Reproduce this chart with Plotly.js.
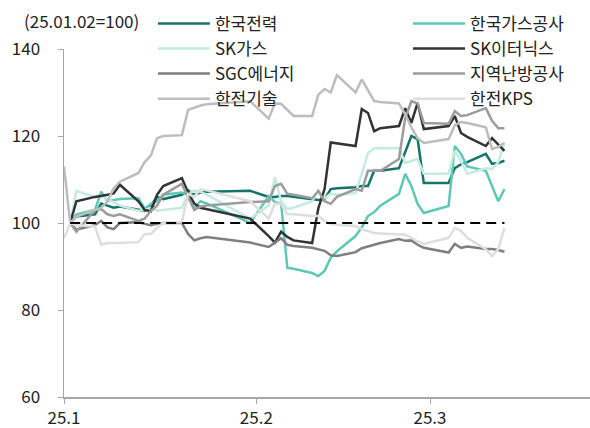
<!DOCTYPE html>
<html>
<head>
<meta charset="utf-8">
<script src="https://cdn.plot.ly/plotly-3.0.1.min.js"></script>
<style>
  html, body { margin: 0; padding: 0; background: #fff; }
  #chart { width: 590px; height: 428px; }
</style>
</head>
<body>
<div id="chart"></div>
<script>
const FONT = {family: '"Noto Sans CJK KR", "Noto Sans", sans-serif', size: 17, color: '#222'};

// trading days, index 0 = year-end carry-over point
const dates = [
  '2025-01-01', '2025-01-02', '2025-01-03', '2025-01-06', '2025-01-07', '2025-01-08', '2025-01-09', '2025-01-10',
  '2025-01-13', '2025-01-14', '2025-01-15', '2025-01-16', '2025-01-17',
  '2025-01-20', '2025-01-21', '2025-01-22', '2025-01-23', '2025-01-24', '2025-01-31',
  '2025-02-03', '2025-02-04', '2025-02-05', '2025-02-06', '2025-02-07',
  '2025-02-10', '2025-02-11', '2025-02-12', '2025-02-13', '2025-02-14',
  '2025-02-17', '2025-02-18', '2025-02-19', '2025-02-20', '2025-02-21',
  '2025-02-24', '2025-02-25', '2025-02-26', '2025-02-27', '2025-02-28',
  '2025-03-04', '2025-03-05', '2025-03-06', '2025-03-07',
  '2025-03-10', '2025-03-11', '2025-03-12', '2025-03-13',
];

const kepco = [null, 100, 101.5, 102, 104.5, 104, 103.5, 103.8, 103, 102.8, 104, 106, 105.5,
  106.5, 107.5, 106.5, 107, 107.2, 107.4, 106, 106, 106.2, 106.2, 106,
  105.5, 105.3, 105.5, 107.8, 108, 108.2, 108.5, 108.5, 112, 112,
  112.6, 116.5, 120, 119.3, 109.2, 109.2, 112.6, 113.5, 114, 115.9, 113.6, 113.8, 114.3];
const kogas = [null, 100, 102, 103, 107.2, 105, 105.3, 105.5, 105.7, 103.3, 104.4, 105, 106.5,
  107, 106.5, 103.4, 105, 104.5, 100, 106.2, 104.8, 104.5, 89.7, 89.5,
  88.5, 87.8, 89, 92, 93.5, 97, 99, 101.6, 102.5, 104,
  106.7, 111.3, 108.5, 104.4, 102.3, 103.9, 117.7, 115.9, 113, 112, 108.5, 105, 107.8];
const skgas = [null, 100, 107.4, 106, 106.3, 105.5, 104.8, 104, 102.8, 103, 103.5, 102.8, 103,
  103.5, 106.7, 107.4, 107.2, 106.5, 101, 104, 110.5, 105, 103.2, 103.5,
  105, 107.4, 105.7, 106.7, 106.5, 106.9, 111.3, 116.1, 117.2, 117.2,
  117.2, 113.8, 114.3, 114.7, 111.3, 111.3, 116.6, 114.3, 111.3, 112.6, 112.4, 114, 118.4];
const skEternix = [null, 100, 105, 106, 106.2, 106.5, 106.8, 108.8, 105, 103, 102.7, 106.5, 108.5,
  110.3, 107, 104.5, 103.5, 103.2, 101, 97, 95.5, 98, 96.8, 96,
  95.4, 103.4, 107.8, 118.5, 118.3, 117.7, 126.2, 125.3, 121.1, 121.8,
  122.3, 126.4, 123, 127.6, 121.6, 122.3, 124.6, 120.7, 119.8, 117.7, 119.5, 118, 116.6];
const sgc = [null, 100, 98.5, 99.5, 100.5, 99, 98.6, 100, 100.2, 99.8, 99.5, 99.8, 100,
  100, 97.5, 96, 96.5, 96.8, 95.5, 94.5, 95.5, 96.5, 95, 94.7,
  94.3, 94, 93.6, 92.6, 92.4, 93.3, 94.2, 94.6, 95, 95.4,
  96.3, 95.9, 96, 95, 94.3, 93.2, 95.2, 94.3, 94.6, 94, 94, 93.8, 93.4];
const kdhc = [null, 100, 98, 103, 103.2, 102, 101.6, 102, 100.5, 101, 102.8, 104, 106.5,
  109, 106, 103, 103.8, 104, 104.8, 105, 108.5, 109, 106.7, 106.5,
  105.7, 107.4, 105, 104.4, 106, 107.8, 107.4, 112, 112, 112,
  114.7, 124.1, 128, 127.5, 123, 122.8, 125.7, 124.6, 124.8, 126.4, 123.5, 121.8, 121.8];
const kepcoEnc = [113, 100, 101.5, 103, 103.5, 105, 108, 109.5, 111.5, 114, 115.5, 119.5, 120,
  120.2, 126, 126.5, 127, 127.3, 128, 124, 127.5, 127.4, 126, 124.6,
  124.6, 129.5, 130.8, 130, 134, 130, 133, 130.5, 128, 127.8,
  127.5, 125, 122, 119.5, 118.4, 119.3, 122.5, 123.2, 123, 122, 117, 117.5, 118.4];
const kepcoKps = [96.5, 100, 99.5, 99.2, 95, 95.4, 95.4, 95.4, 95.6, 97.5, 97.5, 98.9, 100,
  100.2, 106.7, 106, 107.8, 107.5, 105, 101, 104.4, 104.4, 102, 102,
  101.6, 101.6, 100.5, 99.8, 99.6, 99.3, 98.6, 98.2, 97.7, 97.6,
  97.5, 97.3, 96.6, 95.8, 95.2, 96.6, 98.9, 98.2, 96.6, 94, 92.4, 94, 98.9];

const baseDates = [dates[1], dates[dates.length - 1]];
const baseValues = [100, 100];

const tickDates = ['2025-01-01', '2025-02-01', '2025-03-01'];
const tickLabels = ['25.1', '25.2', '25.3'];

// legend: left column = 'legend', right column = 'legend2'
const seriesDefs = [
  {name: '한국전력', y: kepco, color: '#14746a', legend: 'legend'},
  {name: '한국가스공사', y: kogas, color: '#5ec8b7', legend: 'legend2'},
  {name: 'SK가스', y: skgas, color: '#c4eae2', legend: 'legend'},
  {name: 'SK이터닉스', y: skEternix, color: '#333333', legend: 'legend2'},
  {name: 'SGC에너지', y: sgc, color: '#7f7f7f', legend: 'legend'},
  {name: '지역난방공사', y: kdhc, color: '#9c9c9c', legend: 'legend2'},
  {name: '한전기술', y: kepcoEnc, color: '#bdbdbd', legend: 'legend'},
  {name: '한전KPS', y: kepcoKps, color: '#dedede', legend: 'legend2'},
];

const traces = seriesDefs.map(s => ({
  x: dates,
  y: s.y,
  name: s.name,
  legend: s.legend,
  legendgroup: s.name,
  type: 'scatter',
  mode: 'lines',
  connectgaps: false,
  line: {color: s.color, width: 2.5},
  hoverinfo: 'x+y+name',
}));

traces.push({
  x: baseDates,
  y: baseValues,
  type: 'scatter',
  mode: 'lines',
  showlegend: false,
  line: {color: '#000', width: 2, dash: '10px,6px'},
  hoverinfo: 'skip',
});

function legendCol(x) {
  return {
    orientation: 'v',
    x: x,
    xanchor: 'left',
    y: 1.124,
    yanchor: 'top',
    itemwidth: 52,
    tracegroupgap: 0,
    font: FONT,
    bgcolor: 'rgba(0,0,0,0)',
    borderwidth: 0,
  };
}

const layout = {
  width: 590,
  height: 428,
  margin: {l: 64, r: 0, t: 49, b: 31},
  paper_bgcolor: '#fff',
  plot_bgcolor: '#fff',
  font: FONT,
  showlegend: true,
  legend: legendCol(0.169),
  legend2: legendCol(0.654),
  xaxis: {
    type: 'date',
    range: ['2025-01-01', '2025-03-26 19:00'],
    tickvals: tickDates,
    ticktext: tickLabels,
    ticks: 'outside',
    ticklen: 5,
    tickcolor: '#a6a6a6',
    showline: true,
    linecolor: '#a6a6a6',
    linewidth: 1.5,
    showgrid: false,
    zeroline: false,
    tickfont: FONT,
  },
  yaxis: {
    range: [60, 140],
    tickvals: [60, 80, 100, 120, 140],
    ticks: 'outside',
    ticklen: 5,
    tickcolor: '#a6a6a6',
    ticklabelstandoff: 14,
    showline: true,
    linecolor: '#a6a6a6',
    linewidth: 1.5,
    showgrid: false,
    zeroline: false,
    tickfont: FONT,
  },
  annotations: [{
    text: '(25.01.02=100)',
    xref: 'paper', yref: 'paper',
    x: -0.08, y: 1.083,
    xanchor: 'left', yanchor: 'middle',
    showarrow: false,
    font: FONT,
  }],
};

Plotly.newPlot('chart', traces, layout, {displayModeBar: false, staticPlot: true});
</script>
</body>
</html>
